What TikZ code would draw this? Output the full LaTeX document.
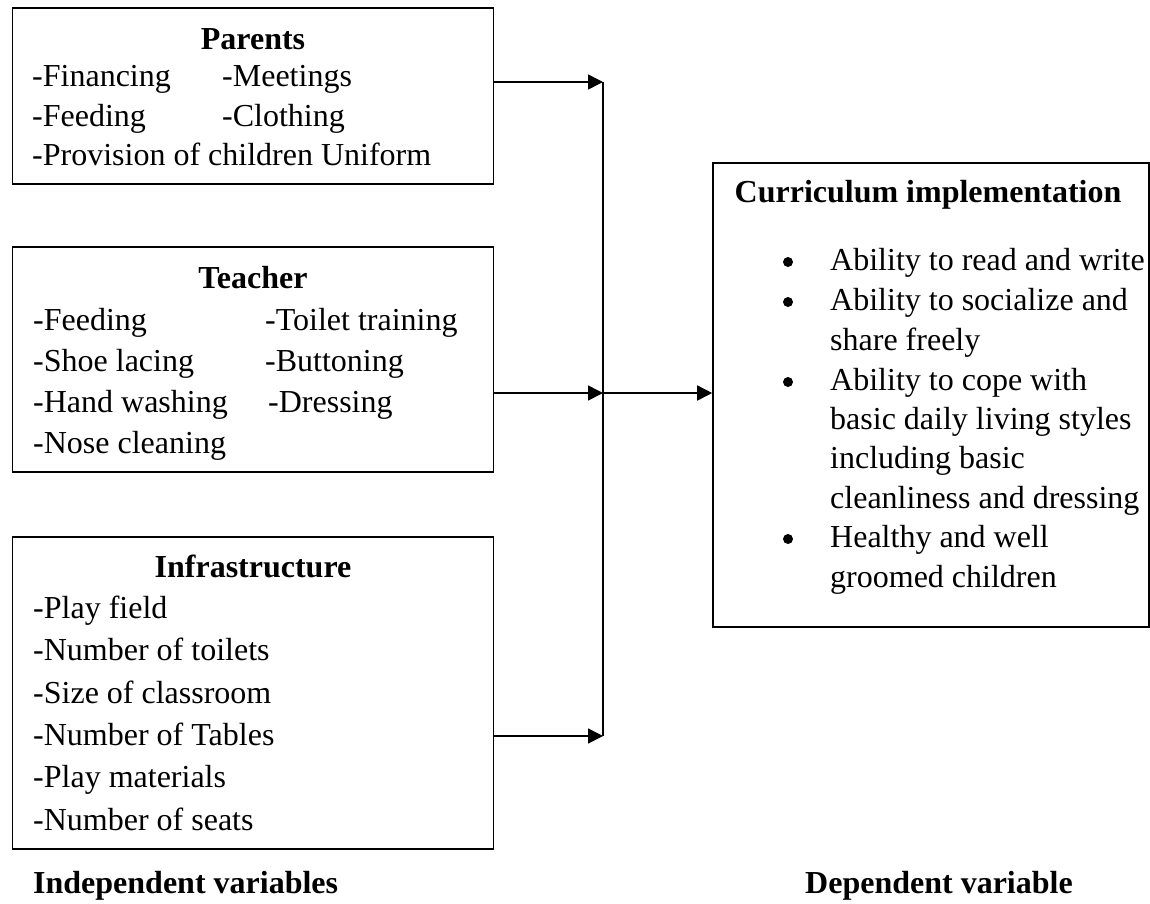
\documentclass[tikz,border=0pt]{standalone}
\usepackage{fontspec}
\setmainfont{Liberation Serif}
\usetikzlibrary{arrows.meta}
\begin{document}
\begin{tikzpicture}[x=1pt,y=-1pt,
  box/.style={draw, line width=1.6pt, rectangle, inner sep=0pt},
  txt/.style={anchor=base west, inner sep=0pt, font=\fontsize{32}{40}\selectfont},
  ttl/.style={anchor=base, inner sep=0pt, font=\fontsize{32}{40}\selectfont\bfseries},
  lbl/.style={anchor=base west, inner sep=0pt, font=\fontsize{32}{40}\selectfont\bfseries},
  bul/.style={circle, fill, inner sep=0pt, minimum size=10pt},
  arr/.style={line width=1.6pt, -{Triangle[length=15pt,width=15pt]}},
  ln/.style={line width=1.6pt}]
\useasboundingbox (0,0) rectangle (1150,903);

% boxes
\node[box, minimum width=481pt, minimum height=176pt] (par) at (253,96) {};
\node[box, minimum width=481pt, minimum height=225pt] (tea) at (253,359.5) {};
\node[box, minimum width=481pt, minimum height=312pt] (inf) at (253,693) {};
\node[box, minimum width=436pt, minimum height=464pt] (cur) at (931,395) {};

% Parents
\node[ttl] (parT) at (253,49) {Parents};
\node[txt] (p1) at (32,86) {-Financing};
\node[txt] (p2) at (222,86) {-Meetings};
\node[txt] (p3) at (32,126) {-Feeding};
\node[txt] (p4) at (222,126) {-Clothing};
\node[txt] (p5) at (32,165) {-Provision of children Uniform};

% Teacher
\node[ttl] (teaT) at (253,288) {Teacher};
\node[txt] (t1) at (33,330) {-Feeding};
\node[txt] (t2) at (265,330) {-Toilet training};
\node[txt] (t3) at (33,371) {-Shoe lacing};
\node[txt] (t4) at (265,371) {-Buttoning};
\node[txt] (t5) at (33,412) {-Hand washing};
\node[txt] (t6) at (268,412) {-Dressing};
\node[txt] (t7) at (33,453) {-Nose cleaning};

% Infrastructure
\node[ttl] (infT) at (253,577) {Infrastructure};
\node[txt] (i1) at (33,618) {-Play field};
\node[txt] (i2) at (33,660) {-Number of toilets};
\node[txt] (i3) at (33,703) {-Size of classroom};
\node[txt] (i4) at (33,745) {-Number of Tables};
\node[txt] (i5) at (33,787) {-Play materials};
\node[txt] (i6) at (33,830) {-Number of seats};

% Curriculum
\node[ttl] (curT) at (928,202) {Curriculum implementation};
\node[bul] (b1) at (788,262) {};
\node[bul] (b2) at (788,302) {};
\node[bul] (b3) at (788,382) {};
\node[bul] (b4) at (788,539) {};
\node[txt] (c1) at (830,270) {Ability to read and write};
\node[txt] (c2) at (830,310) {Ability to socialize and};
\node[txt] (c3) at (830,350) {share freely};
\node[txt] (c4) at (830,390) {Ability to cope with};
\node[txt] (c5) at (830,429) {basic daily living styles};
\node[txt] (c6) at (830,468) {including basic};
\node[txt] (c7) at (830,508) {cleanliness and dressing};
\node[txt] (c8) at (830,547) {Healthy and well};
\node[txt] (c9) at (830,587) {groomed children};

% bottom labels
\node[lbl] (indep) at (33,893) {Independent variables};
\node[lbl] (dep) at (805,893) {Dependent variable};

% connectors
\coordinate (j1) at (603,82);
\coordinate (j2) at (603,393);
\coordinate (j3) at (603,736);
\draw[ln] (j1) -- (j3);
\draw[arr] (par.east |- j1) -- (j1);
\draw[arr] (tea.east |- j2) -- (j2);
\draw[arr] (inf.east |- j3) -- (j3);
\draw[arr] (j2) -- (cur.west |- j2);
\end{tikzpicture}
\end{document}
